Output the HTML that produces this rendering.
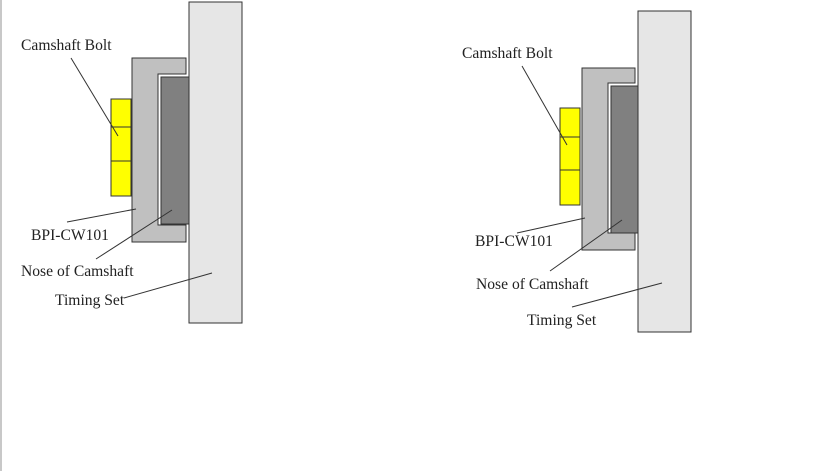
<!DOCTYPE html>
<html><head><style>
html,body{margin:0;padding:0;background:#fff;}
svg{display:block;}
text{font-family:"Liberation Serif",serif;font-size:15.6px;fill:#222;}
</style></head><body>
<svg width="818" height="471" viewBox="0 0 818 471" xmlns="http://www.w3.org/2000/svg">
<rect x="0" y="0" width="2" height="471" fill="#c8c8c8"/>
<g stroke="#333" stroke-width="1">
<rect x="189" y="2" width="53" height="321" fill="#e6e6e6"/>
<polygon points="132,58 186,58 186,74 158,74 158,225 186,225 186,242 132,242" fill="#c0c0c0"/>
<rect x="161" y="77" width="28" height="147" fill="#808080"/>
<rect x="111" y="99" width="20" height="97" fill="#ffff00"/>
<line x1="111" y1="127" x2="131" y2="127"/>
<line x1="111" y1="161" x2="131" y2="161"/>
<line x1="71" y1="58" x2="118" y2="136"/>
<line x1="67" y1="222" x2="136" y2="209"/>
<line x1="96" y1="259" x2="172" y2="210"/>
<line x1="124" y1="298" x2="212" y2="273"/>
<rect x="638" y="11" width="53" height="321" fill="#e6e6e6"/>
<polygon points="582,68 635,68 635,83 608,83 608,233 635,233 635,250 582,250" fill="#c0c0c0"/>
<rect x="611" y="86" width="27" height="147" fill="#808080"/>
<rect x="560" y="108" width="20" height="97" fill="#ffff00"/>
<line x1="560" y1="137" x2="580" y2="137"/>
<line x1="560" y1="170" x2="580" y2="170"/>
<line x1="522" y1="66" x2="567" y2="145"/>
<line x1="517" y1="233" x2="585" y2="218"/>
<line x1="550" y1="271" x2="622" y2="220"/>
<line x1="572" y1="307" x2="662" y2="283"/>
</g>
<text x="21" y="50">Camshaft Bolt</text>
<text x="31" y="240">BPI-CW101</text>
<text x="21" y="276">Nose of Camshaft</text>
<text x="55" y="305">Timing Set</text>
<text x="462" y="58">Camshaft Bolt</text>
<text x="475" y="246">BPI-CW101</text>
<text x="476" y="289">Nose of Camshaft</text>
<text x="527" y="325">Timing Set</text>
</svg>
</body></html>
